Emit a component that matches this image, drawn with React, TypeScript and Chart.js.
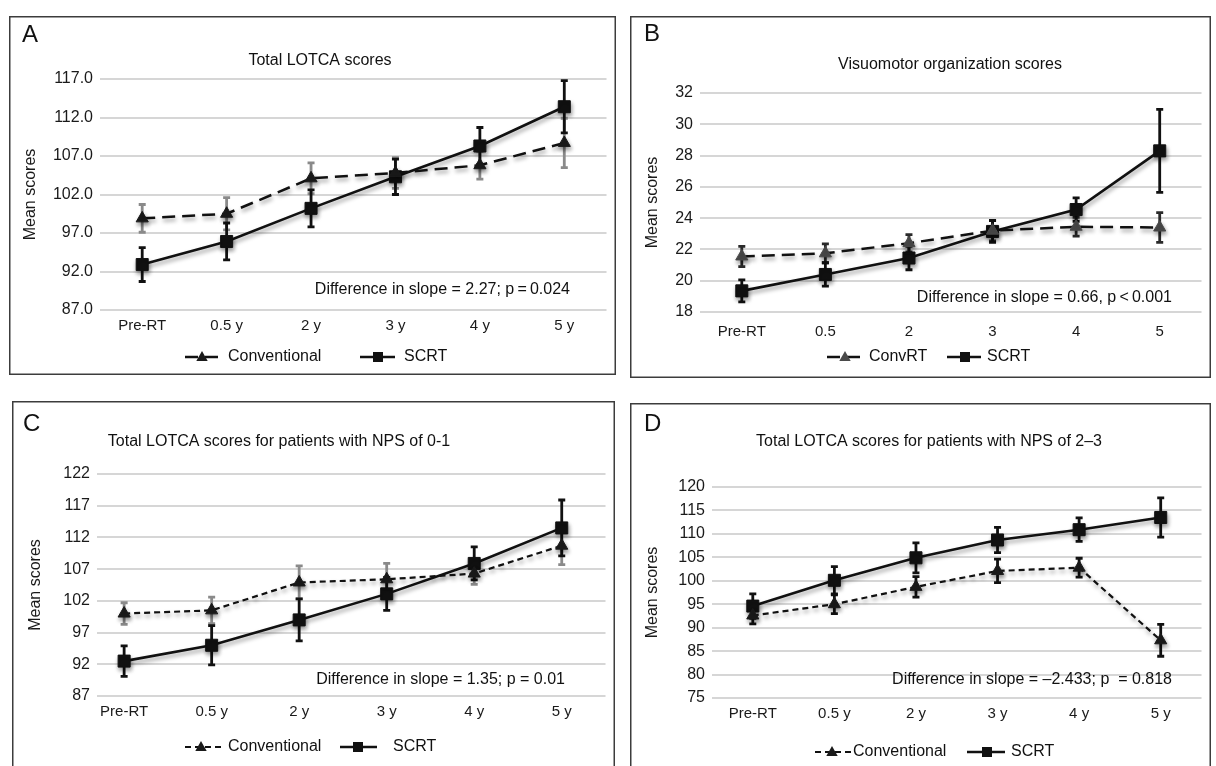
import { useEffect, useRef } from 'react';
import { Chart, registerables } from 'chart.js';

Chart.register(...registerables);

const FONT = "'Liberation Sans', Arial, Helvetica, sans-serif";

// ---------- data ----------
const labelsYears = ['Pre-RT', '0.5 y', '2 y', '3 y', '4 y', '5 y'];
const labelsB = ['Pre-RT', '0.5', '2', '3', '4', '5'];

const ticksA = [87, 92, 97, 102, 107, 112, 117];
const ticksB = [18, 20, 22, 24, 26, 28, 30, 32];
const ticksC = [87, 92, 97, 102, 107, 112, 117, 122];
const ticksD = [75, 80, 85, 90, 95, 100, 105, 110, 115, 120];

const scrtA = [92.9, 95.9, 100.2, 104.3, 108.3, 113.4];
const scrtErrA = [2.2, 2.4, 2.4, 2.3, 2.4, 3.4];
const convA = [98.9, 99.5, 104.1, 104.8, 105.8, 108.7];
const convErrA = [1.8, 2.1, 2.0, 2.0, 1.8, 3.2];

const scrtB = [19.35, 20.4, 21.45, 23.15, 24.55, 28.3];
const scrtErrB = [0.7, 0.75, 0.75, 0.7, 0.75, 2.65];
const convB = [21.55, 21.75, 22.4, 23.2, 23.45, 23.4];
const convErrB = [0.65, 0.6, 0.55, 0.65, 0.6, 0.95];

const scrtC = [92.5, 95.0, 99.0, 103.1, 107.9, 113.5];
const scrtErrC = [2.4, 3.1, 3.3, 2.6, 2.6, 4.4];
const convC = [100.0, 100.5, 104.9, 105.4, 106.3, 110.7];
const convErrC = [1.7, 2.1, 2.6, 2.5, 1.7, 3.0];

const scrtD = [94.6, 100.1, 104.9, 108.7, 110.9, 113.5];
const scrtErrD = [2.6, 2.9, 3.2, 2.7, 2.5, 4.2];
const convD = [92.6, 95.0, 98.7, 102.1, 102.8, 87.3];
const convErrD = [1.8, 2.0, 2.2, 2.5, 2.0, 3.4];

// ---------- panel layout ----------
type Panel = {
  letter: string;
  title: string;
  note: string;
  convName: string;
  labels: string[];
  yTicks: number[];
  decimals: number;
  scrt: number[];
  scrtErr: number[];
  conv: number[];
  convErr: number[];
  box: { x: number; y: number; w: number; h: number };
  area: { l: number; t: number; r: number; b: number };
  xMin: number;
  xMax: number;
  xPad: number;
  yTitleX: number;
  letterPos: [number, number];
  titlePos: [number, number];
  notePos: [number, number];
  dash: number[];
  convWidth: number;
  convMarker: string;
  convErrColor: string;
  legY: number;
  legConv: [number, number, number, number]; // x1, x2, marker x, text x
  legScrt: [number, number, number, number];
};

const PANELS: Panel[] = [
  {
    letter: 'A', title: 'Total LOTCA scores',
    note: 'Difference in slope = 2.27; p\u2009=\u20090.024', convName: 'Conventional',
    labels: labelsYears, yTicks: ticksA, decimals: 1,
    scrt: scrtA, scrtErr: scrtErrA, conv: convA, convErr: convErrA,
    box: { x: 9, y: 16, w: 607, h: 359 },
    area: { l: 100, t: 79, r: 610, b: 310 },
    xMin: -0.5, xMax: 5.5, xPad: 7, yTitleX: 30.5,
    letterPos: [22, 42], titlePos: [320, 61], notePos: [570, 290],
    dash: [13, 7], convWidth: 2.5, convMarker: '#1a1a1a', convErrColor: '#8a8a8a',
    legY: 357, legConv: [185, 221, 202, 228], legScrt: [360, 395, 378, 404],
  },
  {
    letter: 'B', title: 'Visuomotor organization scores',
    note: 'Difference in slope = 0.66, p\u2009<\u20090.001', convName: 'ConvRT',
    labels: labelsB, yTicks: ticksB, decimals: 0,
    scrt: scrtB, scrtErr: scrtErrB, conv: convB, convErr: convErrB,
    box: { x: 630, y: 16, w: 581, h: 362 },
    area: { l: 700, t: 93, r: 1209, b: 312 },
    xMin: -0.5, xMax: 5.5, xPad: 11, yTitleX: 653,
    letterPos: [644, 41], titlePos: [950, 65], notePos: [1172, 298],
    dash: [13, 7], convWidth: 2.5, convMarker: '#4a4a4a', convErrColor: '#2a2a2a',
    legY: 357, legConv: [827, 862, 845, 869], legScrt: [947, 981, 965, 987],
  },
  {
    letter: 'C', title: 'Total LOTCA scores for patients with NPS of 0-1',
    note: 'Difference in slope = 1.35; p = 0.01', convName: 'Conventional',
    labels: labelsYears, yTicks: ticksC, decimals: 0,
    scrt: scrtC, scrtErr: scrtErrC, conv: convC, convErr: convErrC,
    box: { x: 12, y: 401, w: 603, h: 380 },
    area: { l: 97, t: 474, r: 609, b: 696 },
    xMin: -0.31, xMax: 5.5, xPad: 7, yTitleX: 36,
    letterPos: [23, 431], titlePos: [279, 442], notePos: [565, 680],
    dash: [6, 4], convWidth: 2.2, convMarker: '#1a1a1a', convErrColor: '#8a8a8a',
    legY: 747, legConv: [185, 222, 201, 228], legScrt: [340, 377, 358, 393],
  },
  {
    letter: 'D', title: 'Total LOTCA scores for patients with NPS of 2\u20133',
    note: 'Difference in slope = \u20132.433; p  = 0.818', convName: 'Conventional',
    labels: labelsYears, yTicks: ticksD, decimals: 0,
    scrt: scrtD, scrtErr: scrtErrD, conv: convD, convErr: convErrD,
    box: { x: 630, y: 403, w: 581, h: 380 },
    area: { l: 712, t: 487, r: 1209, b: 698 },
    xMin: -0.5, xMax: 5.5, xPad: 7, yTitleX: 653,
    letterPos: [644, 431], titlePos: [929, 442], notePos: [1172, 680],
    dash: [6, 4], convWidth: 2.2, convMarker: '#1a1a1a', convErrColor: '#111111',
    legY: 752, legConv: [815, 851, 832, 853], legScrt: [967, 1005, 987, 1011],
  },
];

function drawTriangle(ctx: CanvasRenderingContext2D, x: number, y: number, r: number, color: string) {
  ctx.beginPath();
  ctx.moveTo(x, y - r);
  ctx.lineTo(x + r * 0.95, y + r * 0.65);
  ctx.lineTo(x - r * 0.95, y + r * 0.65);
  ctx.closePath();
  ctx.fillStyle = color;
  ctx.fill();
}

function drawSquare(ctx: CanvasRenderingContext2D, x: number, y: number, s: number, color: string) {
  ctx.fillStyle = color;
  ctx.fillRect(x - s / 2, y - s / 2, s, s);
}

function panelPlugin(p: Panel) {
  const ox = p.box.x;
  const oy = p.box.y;
  return {
    id: 'panel' + p.letter,
    beforeDatasetsDraw(chart: any) {
      const { ctx } = chart;
      const xs = chart.scales.x;
      const ys = chart.scales.y;
      const sets: [number[], number[], string][] = [
        [p.conv, p.convErr, p.convErrColor],
        [p.scrt, p.scrtErr, '#111111'],
      ];
      ctx.save();
      sets.forEach(([vals, errs, color]) => {
        ctx.strokeStyle = color;
        ctx.lineWidth = 2.8;
        ctx.lineCap = 'butt';
        vals.forEach((v, i) => {
          const x = xs.getPixelForValue(i);
          const y1 = ys.getPixelForValue(v + errs[i]);
          const y2 = ys.getPixelForValue(v - errs[i]);
          ctx.beginPath();
          ctx.moveTo(x, y1);
          ctx.lineTo(x, y2);
          ctx.moveTo(x - 3.5, y1);
          ctx.lineTo(x + 3.5, y1);
          ctx.moveTo(x - 3.5, y2);
          ctx.lineTo(x + 3.5, y2);
          ctx.stroke();
        });
      });
      ctx.restore();
    },
    beforeDatasetDraw(chart: any) {
      const { ctx } = chart;
      ctx.save();
      ctx.shadowColor = 'rgba(0,0,0,0.4)';
      ctx.shadowBlur = 4;
      ctx.shadowOffsetX = 1;
      ctx.shadowOffsetY = 3;
    },
    afterDatasetDraw(chart: any) {
      chart.ctx.restore();
    },
    afterDraw(chart: any) {
      const { ctx } = chart;
      ctx.save();
      // border
      ctx.strokeStyle = '#3c3c3c';
      ctx.lineWidth = 1.5;
      ctx.strokeRect(0.75, 0.75, p.box.w - 1.5, p.box.h - 1.5);
      ctx.fillStyle = '#111';
      // letter
      ctx.font = `24px ${FONT}`;
      ctx.textAlign = 'left';
      ctx.textBaseline = 'alphabetic';
      ctx.fillText(p.letter, p.letterPos[0] - ox, p.letterPos[1] - oy);
      // title
      ctx.font = `16px ${FONT}`;
      ctx.textAlign = 'center';
      ctx.textBaseline = 'middle';
      ctx.fillText(p.title, p.titlePos[0] - ox, p.titlePos[1] - oy);
      // note
      ctx.textAlign = 'right';
      ctx.fillText(p.note, p.notePos[0] - ox, p.notePos[1] - oy);
      // legend
      ctx.textAlign = 'left';
      const ly = p.legY - oy;
      const [c1, c2, cm, ct] = p.legConv;
      ctx.strokeStyle = '#111';
      ctx.lineWidth = p.convWidth;
      ctx.setLineDash(p.dash);
      ctx.beginPath();
      ctx.moveTo(c1 - ox, ly);
      ctx.lineTo(c2 - ox, ly);
      ctx.stroke();
      ctx.setLineDash([]);
      drawTriangle(ctx, cm - ox, ly, 6, p.convMarker);
      ctx.fillStyle = '#111';
      ctx.fillText(p.convName, ct - ox, ly);
      const [s1, s2, sm, st] = p.legScrt;
      ctx.lineWidth = 2.5;
      ctx.beginPath();
      ctx.moveTo(s1 - ox, ly);
      ctx.lineTo(s2 - ox, ly);
      ctx.stroke();
      drawSquare(ctx, sm - ox, ly, 10, '#111');
      ctx.fillStyle = '#111';
      ctx.fillText('SCRT', st - ox, ly);
      ctx.restore();
    },
  };
}

function makeChart(canvas: HTMLCanvasElement, p: Panel) {
  const pts = (vals: number[]) => vals.map((v, i) => ({ x: i, y: v }));
  const idx = p.labels.map((_, i) => i);
  const yFont = { family: FONT, size: 16 };
  const xFont = { family: FONT, size: 15 };
  return new Chart(canvas, {
    type: 'line',
    data: {
      datasets: [
        {
          label: p.convName,
          data: pts(p.conv),
          borderColor: '#111',
          borderWidth: p.convWidth,
          borderDash: p.dash,
          pointStyle: 'triangle',
          pointRadius: 7,
          pointBorderWidth: 1,
          pointBackgroundColor: p.convMarker,
          pointBorderColor: p.convMarker,
          fill: false,
          tension: 0,
        },
        {
          label: 'SCRT',
          data: pts(p.scrt),
          borderColor: '#111',
          borderWidth: 2.6,
          pointStyle: 'rect',
          pointRadius: 8.5,
          pointBorderWidth: 1,
          pointBackgroundColor: '#111',
          pointBorderColor: '#111',
          fill: false,
          tension: 0,
        },
      ],
    },
    options: {
      animation: false,
      responsive: false,
      events: [],
      layout: {
        padding: {
          left: 0,
          top: p.area.t - p.box.y,
          right: p.box.x + p.box.w - p.area.r,
          bottom: 0,
        },
      },
      plugins: {
        legend: { display: false },
        title: { display: false },
        tooltip: { enabled: false },
      },
      scales: {
        x: {
          type: 'linear',
          min: p.xMin,
          max: p.xMax,
          grid: { display: false, drawTicks: false },
          border: { display: false },
          afterBuildTicks: (s: any) => {
            s.ticks = idx.map((v) => ({ value: v }));
          },
          afterFit: (s: any) => {
            s.height = p.box.y + p.box.h - p.area.b;
          },
          ticks: {
            autoSkip: false,
            maxRotation: 0,
            padding: p.xPad,
            color: '#1a1a1a',
            font: xFont,
            callback: (v: any) => p.labels[Math.round(Number(v))] ?? '',
          },
        },
        y: {
          type: 'linear',
          min: p.yTicks[0],
          max: p.yTicks[p.yTicks.length - 1],
          grid: { color: '#d6d6d6', lineWidth: 2, drawTicks: false },
          border: { display: false },
          afterBuildTicks: (s: any) => {
            s.ticks = p.yTicks.map((v) => ({ value: v }));
          },
          afterFit: (s: any) => {
            s.width = p.area.l - p.box.x;
          },
          ticks: {
            padding: 7,
            color: '#1a1a1a',
            font: yFont,
            callback: (v: any) => Number(v).toFixed(p.decimals),
          },
          title: {
            display: true,
            text: 'Mean scores',
            color: '#1a1a1a',
            font: yFont,
            padding: { top: p.yTitleX - p.box.x - 9.6, bottom: 0 },
          },
        },
      },
    },
    plugins: [panelPlugin(p)],
  } as any);
}

export default function App() {
  const canvases = useRef<(HTMLCanvasElement | null)[]>([]);
  useEffect(() => {
    const charts = PANELS.map((p, i) => makeChart(canvases.current[i] as HTMLCanvasElement, p));
    return () => charts.forEach((c) => c.destroy());
  }, []);
  return (
    <div
      style={{
        position: 'absolute',
        left: 0,
        top: 0,
        width: 1216,
        height: 766,
        overflow: 'hidden',
        background: '#fff',
      }}
    >
      {PANELS.map((p, i) => (
        <canvas
          key={p.letter}
          ref={(el) => {
            canvases.current[i] = el;
          }}
          width={p.box.w}
          height={p.box.h}
          style={{ position: 'absolute', left: p.box.x, top: p.box.y, width: p.box.w, height: p.box.h }}
        />
      ))}
    </div>
  );
}
